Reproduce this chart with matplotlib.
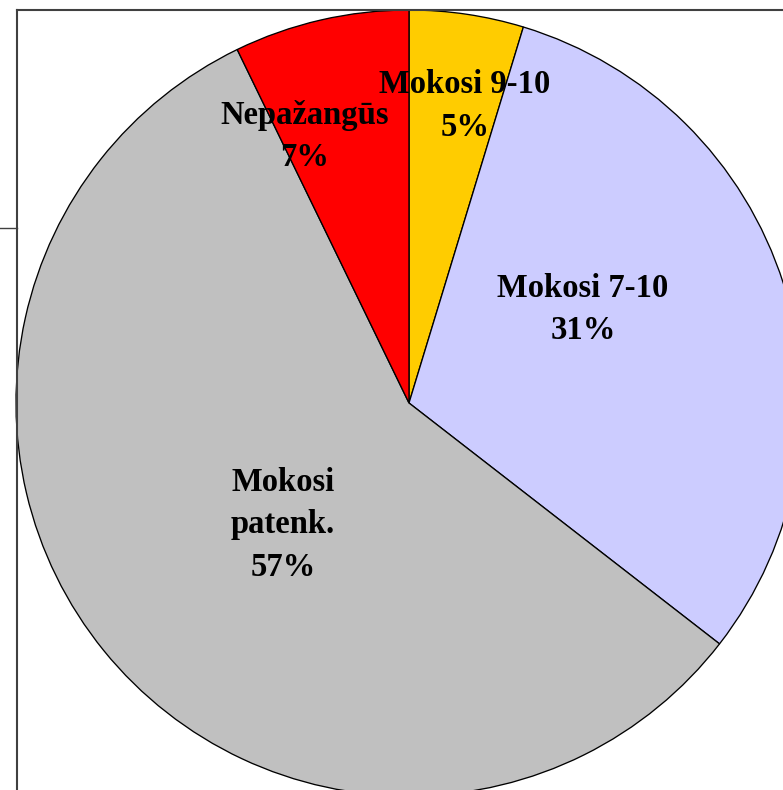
from matplotlib import pyplot as plt
from matplotlib.lines import Line2D

# slices, clockwise from the top
labels = ['Mokosi 9-10\n5%', 'Mokosi 7-10\n31%', 'Mokosi\npatenk.\n57%', 'Nepažangūs\n7%']
shares = [4.7, 30.8, 57.3, 7.2]
colors = ['#FFCC00', '#CCCCFF', '#C0C0C0', '#FF0000']
# label centres, in units of the pie radius
label_xy = [(0.142, 0.756), (0.443, 0.237), (-0.321, -0.310), (-0.265, 0.679)]

W, H = 783, 790
fig = plt.figure(figsize=(W/100, H/100), dpi=100)

# pie centre ~ (409, 403) px, radius ~393 px
cx, cy, r = 409, 403, 393
ax = fig.add_axes([(cx-r)/W, (H-cy-r)/H, 2*r/W, 2*r/H])
ax.pie(shares, colors=colors, startangle=90, counterclock=False, radius=1,
       wedgeprops=dict(edgecolor='black', linewidth=0.95))
ax.set_xlim(-1, 1)
ax.set_ylim(-1, 1)
ax.set_aspect('equal')
ax.axis('off')

for txt, (x, y) in zip(labels, label_xy):
    ax.text(x, y, txt, ha='center', va='center', fontsize=23.5,
            fontweight='bold', family='Liberation Serif', linespacing=1.47)

# chart-area border (left and top edges visible)
fx, fy = 17/W, 1 - 10/H
fig.add_artist(Line2D([fx, fx], [0, fy], color='#404040', lw=1.5))
fig.add_artist(Line2D([fx, 1], [fy, fy], color='#404040', lw=1.5))
fig.add_artist(Line2D([0, fx], [1 - 228/H, 1 - 228/H], color='#404040', lw=1))

plt.savefig('out.png', dpi=100)
